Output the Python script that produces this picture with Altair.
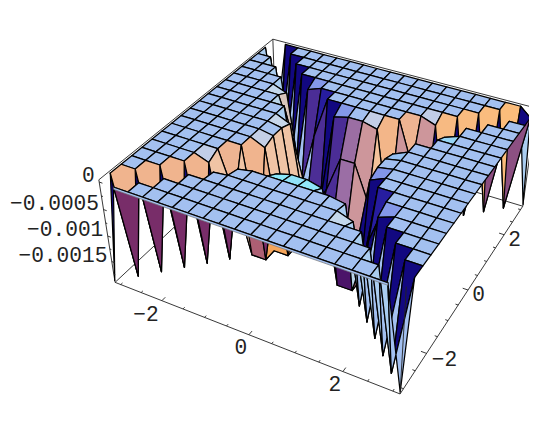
import numpy as np
import altair as alt

# heights of the surface in units of 1e-4, rows j=0..19 (y), columns i=0..19 (x)
D = -18.8
z_rows = [
    [D,0,0,0,0,0,0,0,0,0,0,0,0,0,0,0,0,0,0,D],
    [0,D,0,0,0,0,0,0,0,0,0,0,0,0,0,0,0,0,D,0],
    [0,0,D,0,0,0,0,0,0,0,0,0,0,0,0,0,0,D,0,0],
    [0,0,0,D,0,0,0,0,0,0,0,0,0,0,0,0,D,0,0,0],
    [0,0,0,0,D,-.3,0,0,0,0,0,0,0,0,-1,D,0,0,0,0],
    [0,0,0,0,-1,D,-.5,0,0,0,0,0,0,-.5,D,-1,0,0,0,0],
    [0,0,0,0,0,-8,D,D,-1.2,-.5,-.5,-1.2,D,D,-8,0,0,0,0,0],
    [0,0,0,0,0,0,D,D,D,-7,-7,-14,D,D,0,0,0,0,0,0],
    [0,0,0,0,0,0,-1.2,D,D,D,D,D,D,-1.2,0,0,0,0,0,0],
    [0,0,0,0,0,0,-.5,D,D,D,D,D,D,-.5,0,0,0,0,0,0],
    [0,0,0,0,0,0,-.5,D,D,D,D,D,D,-.5,0,0,0,0,0,0],
    [0,0,0,0,0,0,-1.2,D,D,D,D,D,D,-1.2,0,0,0,0,0,0],
    [0,0,0,0,0,0,D,D,-14,-7,-7,-14,D,D,0,0,0,0,0,0],
    [0,0,0,0,0,-8,D,D,-1.2,-.5,-.5,-1.2,D,D,-8,0,0,0,0,0],
    [0,0,0,0,-1,D,-8,0,0,0,0,0,0,-8,D,-1,0,0,0,0],
    [0,0,0,0,D,-1,0,0,0,0,0,0,0,0,-1,D,0,0,0,0],
    [0,0,0,D,0,0,0,0,0,0,0,0,0,0,0,0,D,0,0,0],
    [0,0,D,0,0,0,0,0,0,0,0,0,0,0,0,0,0,D,0,0],
    [0,D,0,0,0,0,0,0,0,0,0,0,0,0,0,0,0,0,D,0],
    [D,0,0,0,0,0,0,0,0,0,0,0,0,0,0,0,0,0,0,D],
]
x_ticks = [-2, 0, 2]
y_ticks = [-2, 0, 2]
z_ticks = [0, -0.0005, -0.001, -0.0015]
z_labels = ["0", "\u22120.0005", "\u22120.001", "\u22120.0015"]
xy_labels = ["\u22122", "0", "2"]
Z_TOP, Z_BOTTOM = 0.4, -19.2   # box limits, 1e-4 units

# camera: Mathematica's default ViewPoint, box ratios 1:1:0.4
V = np.array([1.3, -2.4, 2.0])
f = -V / np.linalg.norm(V)
r = np.cross(f, [0, 0, 1.0]); r /= np.linalg.norm(r)
u = np.cross(r, f)
SCALE, CX, CY = 1051.0, 320.4, 186.1   # chart pixels


def box(xv, yv, zv):
    return np.array([xv / (2 * np.pi), yv / (2 * np.pi),
                     0.4 * ((zv - Z_BOTTOM) / (Z_TOP - Z_BOTTOM) - 0.5)])


def proj(p):
    q = np.asarray(p) - V
    d = q @ f
    return [float(CX + SCALE * (q @ r) / d), float(CY - SCALE * (q @ u) / d)]


ORANGE = np.array([.7, -.7, .1]) / np.linalg.norm([.7, -.7, .1])
FACING = np.array([0, -1, -.1]) / np.linalg.norm([0, -1, -.1])
TOP = [((0, 0, 1), (163, 192, 240)), ((.7, -.7, .1), (240, 180, 142)),
       ((.35, -.35, 1), (197, 207, 230)), ((-.35, -.3, 1), (130, 150, 232)),
       ((.03, .35, 1), (140, 232, 250)), ((.3, .3, 1), (200, 215, 235)),
       ((-.7, -.7, .1), (18, 8, 128)),
       ((-.35, -.9, .1), (75, 45, 150)), ((0, -1, .1), (155, 110, 165)),
       ((.3, -.95, .1), (205, 150, 155)), ((.92, -.4, .1), (240, 196, 165)),
       ((-1, -.1, .1), (12, 5, 105)), ((-.7, -.7, .7), (40, 30, 160))]
UNDER = [((.7, -.7, -.1), (120, 45, 105)), ((-.7, -.7, -.1), (170, 205, 240)),
         ((0, -1, -.1), (172, 95, 115)), ((-.4, -.9, -.1), (75, 20, 105)),
         ((.4, -.9, -.1), (245, 165, 90)), ((-1, 0, -.1), (20, 10, 110)),
         ((.95, -.3, -.1), (190, 120, 130))]


def color(pts):
    pts = np.array(pts)
    if len(pts) == 4:
        n = np.cross(pts[2] - pts[0], pts[3] - pts[1])
    else:
        n = np.cross(pts[1] - pts[0], pts[2] - pts[0])
    n = n / (np.linalg.norm(n) + 1e-12)
    center = pts.mean(axis=0)
    if n @ (V - center) < 0:
        n = -n
    anchors = TOP if n[2] >= 0 else UNDER
    w = np.array([1 / (np.sum((n - np.array(a) / np.linalg.norm(a)) ** 2) + 1e-4) ** 3 for a, _ in anchors])
    c = (w[:, None] * np.array([col for _, col in anchors])).sum(axis=0) / w.sum()
    if n @ ORANGE > 0.95 and n[2] >= 0 and center[0] > 0:
        k = min(1.0, center[0] * 2.2)
        c = c * (1 - k) + np.array([252, 190, 122]) * k
    if n[2] < 0 and n @ ORANGE > 0.9 and center[0] > 0:
        k = min(1.0, center[0] * 2.2)
        c = c * (1 - k) + np.array([140, 80, 130]) * k
    if n[2] < 0 and n @ ORANGE > 0.85 and center[2] < -0.05:
        c = np.array([245, 165, 90])      # floor of the pit seen under the front plateau
    if n[2] < 0 and n @ FACING > 0.9 and center[0] > 0.05:
        c = np.array([75, 20, 105])
    return "#%02x%02x%02x" % tuple(int(round(v)) for v in c)


def feature(coords, kind="Polygon", fill="#000000"):
    geom = {"type": kind, "coordinates": [coords] if kind == "Polygon" else coords}
    return {"type": "Feature", "geometry": geom, "properties": {"fill": fill}}


grid = np.linspace(-np.pi, np.pi, 20)
Z = np.array(z_rows, dtype=float)
P = [[box(grid[i], grid[j], Z[j][i]) for i in range(20)] for j in range(20)]


def is_saddle(i, j):
    return i == j and Z[j][i] < -5 and Z[j][i + 1] > -5


def cell_features(i, j):
    a, b, c, d = P[j][i], P[j][i + 1], P[j + 1][i + 1], P[j + 1][i]
    polys = [[c, b, d], [a, b, d]] if is_saddle(i, j) else [[a, b, c, d]]
    out = []
    for poly in polys:
        ring = [proj(p) for p in poly]
        ring.append(ring[0])
        out.append(feature(ring, fill=color(poly)))
    return out


faces = []
for j in range(18, -1, -1):
    for i in range(0, 19):
        if is_saddle(i, j) and j < 18:
            continue                       # drawn just before the wall behind it
        if j >= 1 and i == j - 1 and is_saddle(i, i):
            faces += cell_features(i, i)
        faces += cell_features(i, j)

# the thin lip below the front rim of the plateau
lip_ring = [proj(box(grid[1], -np.pi, 0)), proj(box(grid[18], -np.pi, 0)),
            proj(box(grid[18], -np.pi, -0.45)), proj(box(grid[1], -np.pi, -0.45))]
lip_ring.append(lip_ring[0])
lip = [feature(lip_ring, fill="#a3c0f0")]

L = np.pi
C = lambda sx, sy, zv: box(sx * L, sy * L, zv)
zt, zb = Z_TOP, Z_BOTTOM
back_edges = [((-1, -1, zt), (-1, 1, zt)), ((-1, 1, zt), (1, 1, zt)), ((-1, 1, zt), (-1, 1, zb)),
              ((-1, -1, zb), (-1, 1, zb)), ((-1, 1, zb), (1, 1, zb)), ((-1, -1, zt), (-1, -1, zb)),
              ((1, 1, zt), (1, 1, zb))]
front_edges = [((-1, -1, zb), (1, -1, zb)), ((1, -1, zb), (1, 1, zb)), ((1, -1, zt), (1, -1, zb))]
back = [feature([proj(C(*p)), proj(C(*q))], "LineString") for p, q in back_edges]
front = [feature([proj(C(*p)), proj(C(*q))], "LineString") for p, q in front_edges]

# tick marks
for v in np.arange(-3, 3.01, 0.5):
    ln = 0.018 if float(v).is_integer() and int(v) % 2 == 0 else 0.009
    a = box(v, -L, zb); front.append(feature([proj(a), proj(a + [0, ln, 0])], "LineString"))
    a = box(L, v, zb); front.append(feature([proj(a), proj(a + [-ln, 0, 0])], "LineString"))
for v in z_ticks:
    a = box(-L, -L, v * 1e4)
    front.append(feature([proj(a), proj(a + [0.012, 0, 0])], "LineString"))
for v in [-0.00025, -0.00075, -0.00125, -0.00175]:
    a = box(-L, -L, v * 1e4)
    front.append(feature([proj(a), proj(a + [0.006, 0, 0])], "LineString"))

texts = []
for v, s in zip(x_ticks, xy_labels):
    px = proj(box(v, -L, zb))
    dx, dy = (-16, 14) if v < 0 else (-8, 13)
    texts.append({"lon": px[0] + dx, "lat": px[1] + dy, "t": s})
for v, s in zip(y_ticks, xy_labels):
    px = proj(box(L, v, zb))
    dx, dy = (18, 7) if v < 0 else (10.5, 5)
    texts.append({"lon": px[0] + dx, "lat": px[1] + dy, "t": s})
ztexts = []
for v, s in zip(z_ticks, z_labels):
    px = proj(box(-L, -L, v * 1e4) + [-0.017, 0, 0])
    ztexts.append({"lon": px[0], "lat": px[1] - 4, "t": s})


def lines(feats, width, col):
    return alt.Chart(alt.Data(values=feats)).mark_geoshape(filled=False, stroke=col, strokeWidth=width)


face_layer = alt.Chart(alt.Data(values=faces)).mark_geoshape(
    stroke="#000000", strokeWidth=1.25, strokeJoin="round"
).encode(fill=alt.Fill("properties.fill:N", scale=None))
lip_layer = alt.Chart(alt.Data(values=lip)).mark_geoshape(
    stroke="#777777", strokeWidth=0.7, fill="#a3c0f0")
rim = [feature([proj(box(grid[1], -np.pi, 0)), proj(box(grid[18], -np.pi, 0))], "LineString")]

font = dict(font="Liberation Mono", fontSize=21.2, color="#222222", baseline="middle")
t1 = alt.Chart(alt.Data(values=texts)).mark_text(align="center", **font).encode(
    longitude="lon:Q", latitude="lat:Q", text="t:N")
t2 = alt.Chart(alt.Data(values=ztexts)).mark_text(align="right", **font).encode(
    longitude="lon:Q", latitude="lat:Q", text="t:N")

chart = alt.layer(lines(back, 0.9, "#222222"), face_layer, lip_layer, lines(rim, 1.25, "#000000"),
                  lines(front, 0.9, "#222222"), t1, t2).project(
    type="identity", scale=1, translate=[0, 0]
).properties(width=521, height=410, padding=0).configure_view(stroke=None)

chart.save("out.html", embed_options={"renderer": "svg", "actions": False})
